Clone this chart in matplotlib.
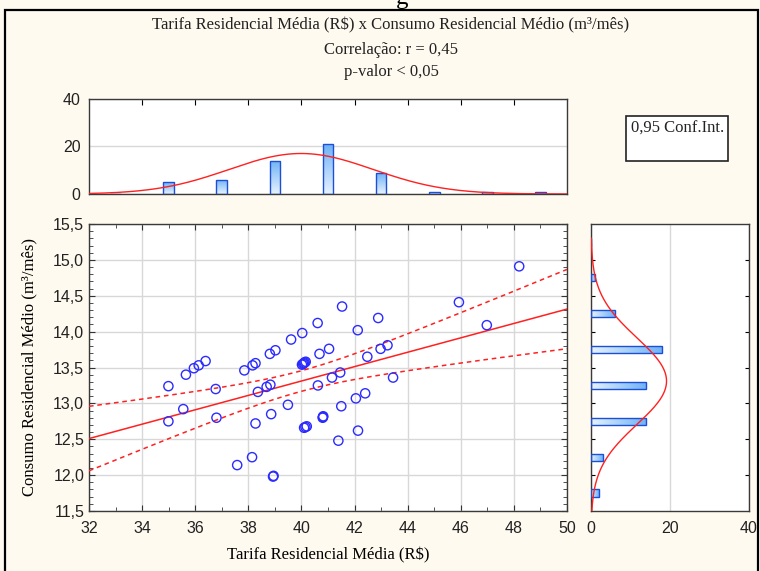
import matplotlib

matplotlib.use("Agg")
import matplotlib.pyplot as plt
import numpy as np
from matplotlib.colors import LinearSegmentedColormap
from matplotlib.patches import Rectangle
from matplotlib.ticker import FuncFormatter, MultipleLocator

# values (58 municipalities)
tarifa = [48.20, 45.93, 46.98, 41.53, 40.61, 42.89, 40.03, 39.61, 42.12, 41.04,
          40.68, 42.98, 43.24, 42.48, 40.02, 40.06, 40.09, 40.12, 40.16, 41.46,
          41.15, 43.45, 40.62, 39.49, 42.40, 42.05, 41.50, 40.81, 40.82, 40.80,
          40.10, 40.15, 40.20, 42.13, 41.39, 39.02, 38.81, 38.27, 38.16, 37.85,
          36.39, 36.13, 35.95, 35.65, 34.99, 36.77, 38.83, 38.69, 38.36, 35.55,
          38.86, 36.80, 34.99, 38.27, 38.14, 37.58, 38.93, 38.95]
consumo = [14.91, 14.41, 14.09, 14.35, 14.12, 14.19, 13.98, 13.89, 14.02, 13.76,
           13.69, 13.76, 13.81, 13.65, 13.54, 13.55, 13.56, 13.57, 13.58, 13.43,
           13.36, 13.36, 13.25, 12.98, 13.14, 13.07, 12.96, 12.81, 12.82, 12.80,
           12.66, 12.67, 12.68, 12.62, 12.48, 13.74, 13.69, 13.56, 13.53, 13.46,
           13.59, 13.53, 13.49, 13.40, 13.24, 13.20, 13.26, 13.23, 13.16, 12.92,
           12.85, 12.80, 12.75, 12.72, 12.25, 12.14, 11.98, 11.99]

x_edges = np.arange(32, 50.1, 2)
y_edges = np.arange(11.5, 15.51, 0.5)

BG = "#fffaf0"
RED = "#ff2020"
BLUE = "#2b2bff"
EDGE = "#1a4fd6"
SERIF = "Liberation Serif"
SANS = "Liberation Sans"
grad = LinearSegmentedColormap.from_list("bar", ["#e6f2ff", "#6fb2f5"])

W, H = 760, 571


def fig_rect(l, t, r, b):
    return [l / W, 1 - b / H, (r - l) / W, (b - t) / H]


def comma(v, _):
    return f"{v:.1f}".replace(".", ",")


def grad_bar(ax, x0, y0, w, h, horizontal):
    bar = Rectangle((x0, y0), w, h, facecolor="none", edgecolor=EDGE, lw=1.0, zorder=3)
    ax.add_patch(bar)
    g = np.linspace(0, 1, 64)
    img = g[None, :] if horizontal else g[::-1, None]
    im = ax.imshow(img, extent=[x0, x0 + w, y0, y0 + h], cmap=grad, aspect="auto",
                   origin="upper", zorder=2, interpolation="bilinear")
    im.set_clip_path(bar)


plt.rcParams["font.family"] = SANS
fig = plt.figure(figsize=(W / 100, H / 100), dpi=100, facecolor=BG)

x = np.array(tarifa)
y = np.array(consumo)
n = len(x)

# main scatter
ax = fig.add_axes(fig_rect(89, 224, 567, 511))
ax.set_facecolor("white")
ax.scatter(x, y, s=44, facecolors="none", edgecolors=BLUE, linewidths=1.0, zorder=4)
slope, icpt = np.polyfit(x, y, 1)
xs = np.linspace(32, 50, 200)
yh = icpt + slope * xs
resid = y - (icpt + slope * x)
s = np.sqrt(np.sum(resid ** 2) / (n - 2))
se = s * np.sqrt(1 / n + (xs - x.mean()) ** 2 / np.sum((x - x.mean()) ** 2))
ax.plot(xs, yh, color=RED, lw=1.1, zorder=3)
ax.plot(xs, yh + 2.003 * se, color=RED, lw=1.1, ls=(0, (3, 2.5)), zorder=3)
ax.plot(xs, yh - 2.003 * se, color=RED, lw=1.1, ls=(0, (3, 2.5)), zorder=3)
ax.set_xlim(32, 50)
ax.set_ylim(11.5, 15.5)
ax.xaxis.set_major_locator(MultipleLocator(2))
ax.xaxis.set_minor_locator(MultipleLocator(1))
ax.yaxis.set_major_locator(MultipleLocator(0.5))
ax.yaxis.set_minor_locator(MultipleLocator(0.1))
ax.yaxis.set_major_formatter(FuncFormatter(comma))
ax.grid(True, which="major", color="#d8d8d8", lw=1.0, zorder=0)
ax.set_axisbelow(True)
ax.tick_params(which="both", direction="in", top=True, right=True, labelsize=11.5,
               colors="#333333", labelcolor="#222222")
ax.tick_params(which="major", length=4)
ax.tick_params(which="minor", length=3)
ax.tick_params(axis="x", pad=7)
ax.set_xlabel("Tarifa Residencial Média (R\\$)", family=SERIF, fontsize=12, labelpad=8)
ax.set_ylabel("Consumo Residencial Médio (m³/mês)", family=SERIF, fontsize=12, labelpad=11)

# top histogram
axt = fig.add_axes(fig_rect(89, 99, 567, 194))
axt.set_facecolor("white")
cx, _ = np.histogram(x, bins=x_edges)
for left, c in zip(x_edges[:-1], cx):
    grad_bar(axt, left + 1 - 0.2, 0, 0.4, c, horizontal=False)
gx = np.linspace(32, 50, 300)
pdf_x = n * 2 * np.exp(-0.5 * ((gx - x.mean()) / x.std(ddof=1)) ** 2) / (x.std(ddof=1) * np.sqrt(2 * np.pi))
axt.plot(gx, pdf_x, color=RED, lw=1.0, zorder=4)
axt.set_xlim(32, 50)
axt.set_ylim(0, 40)
axt.set_yticks([0, 20, 40])
axt.set_xticks(np.arange(34, 49, 2))
axt.yaxis.grid(True, color="#d8d8d8", lw=1.0)
axt.set_axisbelow(True)
axt.tick_params(axis="x", direction="in", top=True, bottom=False, labelbottom=False, length=4)
axt.tick_params(axis="y", length=0, labelsize=11.5, labelcolor="#222222", pad=6)

# right histogram
axr = fig.add_axes(fig_rect(591, 224, 749, 511))
axr.set_facecolor("white")
cy, _ = np.histogram(y, bins=y_edges)
for low, c in zip(y_edges[:-1], cy):
    grad_bar(axr, 0, low + 0.25 - 0.05, c, 0.1, horizontal=True)
gy = np.linspace(11.5, 15.3, 300)
pdf_y = n * 0.5 * np.exp(-0.5 * ((gy - y.mean()) / y.std(ddof=1)) ** 2) / (y.std(ddof=1) * np.sqrt(2 * np.pi))
axr.plot(pdf_y, gy, color=RED, lw=1.0, zorder=4)
axr.set_xlim(0, 40)
axr.set_ylim(11.5, 15.5)
axr.set_xticks([0, 20, 40])
axr.set_yticks(np.arange(12, 15.5, 0.5))
axr.xaxis.grid(True, color="#d8d8d8", lw=1.0)
axr.set_axisbelow(True)
axr.tick_params(axis="y", direction="in", left=True, right=True, labelleft=False, length=3)
axr.tick_params(axis="x", length=0, labelsize=11.5, labelcolor="#222222", pad=7)

for a in (ax, axt, axr):
    for sp in a.spines.values():
        sp.set_color("#3a3a3a")
        sp.set_linewidth(1.0)

# titles
fig.text(391 / W, 1 - 25 / H, "Tarifa Residencial Média (R\\$) x Consumo Residencial Médio (m³/mês)",
         family=SERIF, fontsize=12, ha="center", va="center", color="#222222")
fig.text(391 / W, 1 - 50 / H, "Correlação: r = 0,45", family=SERIF, fontsize=12,
         ha="center", va="center", color="#222222")
fig.text(391 / W, 1 - 72 / H, "p-valor < 0,05", family=SERIF, fontsize=12,
         ha="center", va="center", color="#222222")

# legend box
fig.add_artist(Rectangle((626 / W, 1 - 161 / H), 102 / W, 45 / H, transform=fig.transFigure,
                         facecolor="white", edgecolor="#222222", lw=1.2))
fig.text(631 / W, 1 - 129 / H, "0,95 Conf.Int.", family=SERIF, fontsize=12,
         ha="left", va="center", color="#222222")

# outer frame and the clipped caption glyph above it
fig.add_artist(Rectangle((5 / W, -0.05), 753 / W, 1.05 - 10 / H, transform=fig.transFigure,
                         fill=False, edgecolor="black", lw=1.6))
fig.text(402 / W, 1 + 2 / H, "g", family=SERIF, fontsize=18, ha="center", va="center")

fig.savefig("out.png", dpi=100, facecolor=BG)
